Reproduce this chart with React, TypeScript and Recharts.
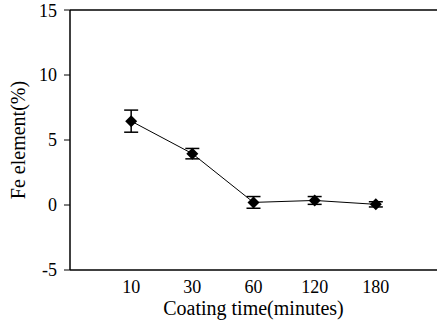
import { CartesianGrid, ErrorBar, Line, LineChart, ReferenceLine, XAxis, YAxis } from "recharts";

// Fe content vs coating time.
const times = ["10", "30", "60", "120", "180"];
const positions = [1, 2, 3, 4, 5];
const feValues = [6.45, 3.95, 0.2, 0.35, 0.05];
const feErrors = [0.85, 0.4, 0.45, 0.3, 0.2];
const yTicks = [-5, 0, 5, 10, 15];

const FONT = "Times New Roman, Liberation Serif, DejaVu Serif, serif";

const data = positions.map((x, i) => ({ x, fe: feValues[i], err: feErrors[i] }));

interface DotProps {
  cx?: number;
  cy?: number;
  index?: number;
}

function Diamond({ cx, cy, index }: DotProps) {
  if (cx == null || cy == null) return null;
  const r = 6;
  return (
    <polygon
      key={`d-${index}`}
      points={`${cx},${cy - r} ${cx + r},${cy} ${cx},${cy + r} ${cx - r},${cy}`}
      fill="#000"
    />
  );
}

export default function App() {
  return (
    <div style={{ position: "absolute", left: 0, top: 0, background: "#fff", fontFamily: FONT }}>
      <LineChart
        width={437}
        height={323}
        data={data}
        margin={{ top: 10, right: 0, bottom: 0, left: 0 }}
        style={{ fontFamily: FONT }}
      >
        <CartesianGrid stroke="none" />
        <XAxis
          type="number"
          dataKey="x"
          domain={[0, 6]}
          ticks={positions}
          tickFormatter={(v: number) => times[v - 1]}
          height={53}
          tickLine={false}
          axisLine={{ stroke: "#000", strokeWidth: 1.5 }}
          tick={{ fontSize: 18, fill: "#000", fontFamily: FONT, dy: 2 }}
          label={{
            value: "Coating time(minutes)",
            position: "insideBottom",
            offset: 8,
            style: { fontSize: 20, fill: "#000", fontFamily: FONT },
          }}
        />
        <YAxis
          type="number"
          domain={[-5, 15]}
          ticks={yTicks}
          width={70}
          tickSize={6}
          tickLine={{ stroke: "#000" }}
          axisLine={{ stroke: "#000", strokeWidth: 1.5 }}
          tick={{ fontSize: 18, fill: "#000", fontFamily: FONT, dx: -5 }}
          label={{
            value: "Fe element(%)",
            angle: -90,
            position: "insideLeft",
            offset: 18,
            style: { fontSize: 20, fill: "#000", fontFamily: FONT, textAnchor: "middle" },
          }}
        />
        <ReferenceLine y={15} stroke="#000" strokeWidth={1.5} />
        <Line
          dataKey="fe"
          stroke="#000"
          strokeWidth={1}
          dot={Diamond}
          activeDot={false}
          isAnimationActive={false}
        >
          <ErrorBar dataKey="err" direction="y" width={7} stroke="#000" strokeWidth={1.5} isAnimationActive={false} />
        </Line>
      </LineChart>
    </div>
  );
}
